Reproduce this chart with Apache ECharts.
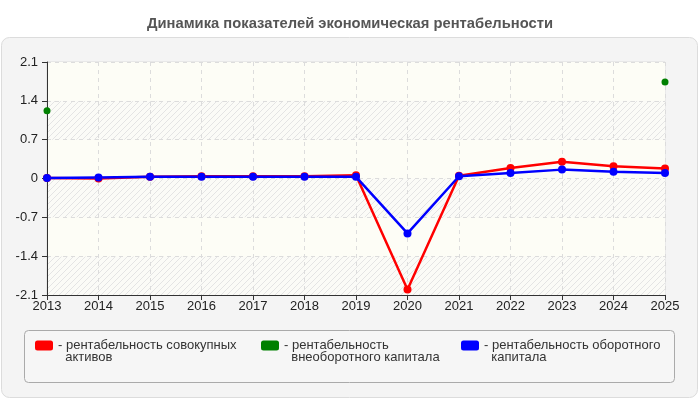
<!DOCTYPE html>
<html><head><meta charset="utf-8">
<script src="https://cdn.jsdelivr.net/npm/echarts@6/dist/echarts.min.js"></script>
<style>html,body{margin:0;padding:0;background:#fff}#c{width:700px;height:400px}</style>
</head><body><div id="c"></div>
<script>
const years = ['2013','2014','2015','2016','2017','2018','2019','2020','2021','2022','2023','2024','2025'];
const roaTotal = [0.01, 0.0, 0.03, 0.04, 0.04, 0.04, 0.06, -2.0, 0.05, 0.19, 0.30, 0.22, 0.18];
const roaFixed = [1.22, null, null, null, null, null, null, null, null, null, null, null, 1.74];
const roaCurrent = [0.01, 0.02, 0.03, 0.03, 0.03, 0.03, 0.03, -0.99, 0.04, 0.10, 0.16, 0.12, 0.10];
const yTicks = [-2.1, -1.4, -0.7, 0, 0.7, 1.4, 2.1];
const names = ['рентабельность совокупных активов', 'рентабельность внеоборотного капитала', 'рентабельность оборотного капитала'];
const legendLabels = ['\n- рентабельность совокупных\n  активов', '\n- рентабельность\n  внеоборотного капитала', '\n- рентабельность оборотного\n  капитала'];

function hatch() {
  const c = document.createElement('canvas');
  c.width = 6; c.height = 6;
  const g = c.getContext('2d');
  g.fillStyle = '#fbfbf7'; g.fillRect(0,0,6,6);
  g.strokeStyle = '#e4e4e4'; g.lineWidth = 1;
  g.beginPath(); g.moveTo(0,6); g.lineTo(6,0); g.moveTo(-1,1); g.lineTo(1,-1); g.moveTo(5,7); g.lineTo(7,5); g.stroke();
  return {image: c, repeat: 'repeat'};
}
const font = '"Liberation Sans", Arial, sans-serif';
const chart = echarts.init(document.getElementById('c'));
const legendDef = (i, left) => ({
  left: left, top: 322, orient: 'horizontal', data: [names[i]],
  icon: 'roundRect', itemWidth: 18, itemHeight: 10, itemGap: 0,
  formatter: () => legendLabels[i],
  textStyle: {fontFamily: font, fontSize: 13, color: '#333', lineHeight: 12}
});
chart.setOption({
  animation: false,
  backgroundColor: '#fff',
  title: {text: 'Динамика показателей экономическая рентабельности', left: 'center', top: 11,
    textStyle: {fontFamily: font, fontSize: 14.75, fontWeight: 'bold', color: '#555'}},
  graphic: [
    {type: 'rect', z: -10, shape: {x: 1.5, y: 37.5, width: 696, height: 360, r: 8}, style: {fill: '#f4f4f4', stroke: '#dcdcdc', lineWidth: 1}},
    {type: 'rect', z: -9, shape: {x: 24.5, y: 330.5, width: 650, height: 52, r: 4}, style: {fill: '#f6f6f6', stroke: '#aaa', lineWidth: 1}}
  ],
  legend: [legendDef(0, 30), legendDef(1, 256), legendDef(2, 456)],
  grid: {left: 47, right: 35, top: 62, bottom: 105, show: true, backgroundColor: '#fdfdf6', borderColor: '#ddd', borderWidth: 1},
  xAxis: {type: 'category', data: years, boundaryGap: false,
    axisLine: {onZero: false, lineStyle: {color: '#333', width: 1}},
    axisTick: {alignWithLabel: true, length: 5, lineStyle: {color: '#333'}},
    axisLabel: {fontFamily: font, fontSize: 13, color: '#222', margin: 5},
    splitLine: {show: true, lineStyle: {color: '#dcdcdc', type: [4, 4]}}},
  yAxis: {type: 'value', min: -2.1, max: 2.1, interval: 0.7,
    axisLine: {show: true, lineStyle: {color: '#333', width: 1}},
    axisTick: {show: true, length: 5, lineStyle: {color: '#333'}},
    axisLabel: {fontFamily: font, fontSize: 13, color: '#222', margin: 9,
      formatter: v => { const t = yTicks.find(x => Math.abs(x - v) < 1e-6); return t === undefined ? '' : String(t); }},
    splitLine: {show: true, lineStyle: {color: '#dcdcdc', type: [4, 4]}},
    splitArea: {show: true, areaStyle: {color: [hatch(), '#fdfdf6']}}},
  series: [
    {name: names[0], type: 'line', data: roaTotal, color: '#ff0000', symbol: 'circle', symbolSize: 8,
      lineStyle: {width: 2.5}, itemStyle: {color: '#ff0000'}},
    {name: names[1], type: 'line', data: roaFixed, color: '#008000', symbol: 'circle', symbolSize: 7,
      lineStyle: {width: 2.5}, itemStyle: {color: '#008000'}, connectNulls: false},
    {name: names[2], type: 'line', data: roaCurrent, color: '#0000ff', symbol: 'circle', symbolSize: 8,
      lineStyle: {width: 2.5}, itemStyle: {color: '#0000ff'}}
  ]
});
</script></body></html>
